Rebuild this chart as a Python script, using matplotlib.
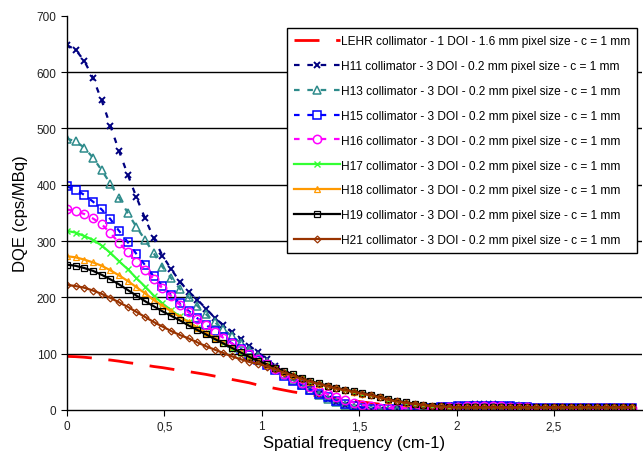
import numpy as np
import matplotlib
matplotlib.use("Agg")
import matplotlib.pyplot as plt

plt.rcParams['font.family'] = ['Liberation Sans', 'DejaVu Sans']

# spatial frequency sampling (cm-1)
df = 0.0446
n_pts = 66
freq = np.arange(n_pts) * df

tail_low = [4.5, 4.5, 4.4, 4.5, 4.6, 4.5, 4.4, 4.5, 4.5, 4.6, 4.5,
            4.4, 4.5, 4.5, 4.6, 4.5, 4.4, 4.5, 4.5, 4.5, 4.5]

lehr = [95, 94.5, 93.5, 92, 90, 88.5, 86.5, 84, 82, 79.5, 77, 75, 72.5, 70, 68,
        65.5, 63, 60, 57, 54, 51, 48, 44, 41, 38, 35, 32, 29.5, 27, 24.5, 22,
        20, 18, 16, 14, 12, 10, 8.5, 7, 6, 5, 4, 3.5, 3, 2.5] + [2] * 21

h11 = [648, 640, 620, 590, 550, 505, 460, 418, 378, 340, 305, 274, 250, 228,
       210, 196, 180, 164, 150, 138, 126, 114, 102, 90, 78, 66, 56, 46, 37,
       28, 20, 14, 8, 4, 1, 0, 0, 0, 1, 2, 3, 4, 5, 6, 7, 8, 9, 10, 10, 10,
       9, 8, 7, 6, 5, 4, 3, 3, 2, 2, 2, 2, 2, 2, 2, 2]

h13 = [482, 477, 466, 448, 426, 402, 377, 350, 325, 302, 278, 254, 234, 215,
       200, 185, 170, 156, 143, 131, 119, 107, 96, 85, 74, 63, 53, 44, 35,
       27, 20, 14, 9, 5, 2, 1, 0, 0, 0, 1, 1, 2, 3, 4, 5, 5, 6, 6, 7, 7,
       7, 6, 6, 5, 4, 4, 3, 3, 3, 2, 2, 2, 2, 2, 2, 2]

h15 = [397, 391, 382, 370, 356, 339, 318, 298, 277, 257, 237, 220, 204, 189,
       176, 163, 151, 140, 129, 118, 108, 98, 88, 79, 70, 61, 52, 44, 36,
       29, 22, 16, 11, 7, 4, 2, 1, 1, 1, 2, 2, 3, 4, 5, 5, 6, 6, 7, 7, 7,
       6, 6, 5, 5, 4, 4, 3, 3, 3, 3, 3, 3, 3, 3, 3, 3]

h16 = [356, 353, 348, 340, 330, 314, 297, 280, 263, 248, 232, 216, 202, 187,
       173, 162, 150, 139, 128, 118, 108, 99, 90, 81, 72, 64, 56, 48, 41,
       34, 28, 22, 17, 13, 9, 6, 4, 3, 3, 3, 3, 4, 4, 5, 5, 5, 6, 6, 6, 6,
       6, 5, 5, 5, 4, 4, 4, 4, 3, 3, 3, 3, 3, 3, 3, 3]

h17 = [318, 315, 309, 302, 292, 279, 264, 250, 234, 219, 203, 189, 177, 166,
       156, 146, 136, 127, 118, 109, 101, 93, 87, 80, 74, 68, 62, 56, 50,
       46, 42, 38, 35, 32, 29, 26, 22, 18, 15, 12.5, 10.5, 8.5, 7, 6,
       5] + tail_low

h18 = [273, 271, 267, 262, 256, 248, 239, 229, 218, 207, 195, 185, 175, 165,
       156, 146, 137, 128, 119, 110, 102, 94, 87, 80, 74, 68, 62, 56, 50,
       46, 42, 38, 35, 32, 29, 26, 22, 18, 15, 12.5, 10.5, 8.5, 7, 6,
       5] + tail_low

h19 = [258, 256, 252, 247, 240, 232, 223, 213, 203, 193, 184, 175, 167, 159,
       150, 142, 134, 126, 118, 110, 102, 94, 87, 81, 75, 69, 63, 57, 51,
       47, 43, 39, 36, 33, 30, 27, 23, 19, 16, 13.5, 11, 9, 7.5, 6.5,
       5.5] + tail_low

h21 = [222, 220, 217, 212, 206, 199, 191, 183, 174, 165, 156, 148, 140, 133,
       127, 120, 113, 107, 101, 95, 90, 85, 82, 77, 72, 66, 61, 55, 50,
       46, 42, 38, 35, 32, 29, 26, 22, 18, 15, 12.5, 10.5, 8.5, 7, 6,
       5] + tail_low

labels = [
    "LEHR collimator - 1 DOI - 1.6 mm pixel size - c = 1 mm",
    "H11 collimator - 3 DOI - 0.2 mm pixel size - c = 1 mm",
    "H13 collimator - 3 DOI - 0.2 mm pixel size - c = 1 mm",
    "H15 collimator - 3 DOI - 0.2 mm pixel size - c = 1 mm",
    "H16 collimator - 3 DOI - 0.2 mm pixel size - c = 1 mm",
    "H17 collimator - 3 DOI - 0.2 mm pixel size - c = 1 mm",
    "H18 collimator - 3 DOI - 0.2 mm pixel size - c = 1 mm",
    "H19 collimator - 3 DOI - 0.2 mm pixel size - c = 1 mm",
    "H21 collimator - 3 DOI - 0.2 mm pixel size - c = 1 mm",
]

xtick_vals = [0, 0.5, 1, 1.5, 2, 2.5]
xtick_labels = ["0", "0,5", "1", "1,5", "2", "2,5"]
ytick_vals = [0, 100, 200, 300, 400, 500, 600, 700]

fig = plt.figure(figsize=(6.43, 4.56), dpi=100)
ax = fig.add_axes([0.104, 0.099, 0.894, 0.864])

dash_short = (0, (2.5, 3.5))

ax.plot(freq, lehr, color='red', lw=2, ls=(0, (9, 6)), label=labels[0])
ax.plot(freq, h11, color='#000080', lw=1.6, ls=dash_short, marker='x',
        ms=5, mew=1.4, label=labels[1])
ax.plot(freq, h13, color='#2E8B8B', lw=1.6, ls=dash_short, marker='^',
        ms=5.5, mfc='none', mew=1.1, label=labels[2])
ax.plot(freq, h15, color='#0000FF', lw=1.6, ls=dash_short, marker='s',
        ms=6, mfc='none', mew=1.1, label=labels[3])
ax.plot(freq, h16, color='#FF00FF', lw=1.6, ls=dash_short, marker='o',
        ms=6, mfc='none', mew=1.1, label=labels[4])
ax.plot(freq, h17, color='#33FF33', lw=1.6, marker='x', ms=4, mew=1,
        label=labels[5])
ax.plot(freq, h18, color='#FF9900', lw=1.6, marker='^', ms=4, mfc='none',
        mew=0.9, label=labels[6])
ax.plot(freq, h19, color='black', lw=1.6, marker='s', ms=4, mfc='none',
        mew=0.9, label=labels[7])
ax.plot(freq, h21, color='#993300', lw=1.6, marker='D', ms=3.5, mfc='none',
        mew=0.9, label=labels[8])

ax.set_xlim(0, 2.95)
ax.set_ylim(0, 700)
ax.set_xticks(xtick_vals)
ax.set_xticklabels(xtick_labels)
ax.set_yticks(ytick_vals)
ax.tick_params(axis='both', labelsize=8.5, direction='out', length=4,
               color='black', labelcolor='#222222')

ax.grid(axis='y', color='black', lw=1)
ax.set_axisbelow(True)
gl = ax.yaxis.get_gridlines()
gl[-1].set_visible(False)
gl[0].set_visible(False)

for s in ['top', 'right']:
    ax.spines[s].set_visible(False)
ax.spines['left'].set_linewidth(1)
ax.spines['bottom'].set_linewidth(1)

ax.set_xlabel("Spatial frequency (cm-1)", fontsize=12, labelpad=2)
ax.set_ylabel("DQE (cps/MBq)", fontsize=12, labelpad=6)

leg = ax.legend(loc='upper right', bbox_to_anchor=(0.992, 0.968),
                fontsize=8.6, frameon=True, fancybox=False, framealpha=1,
                edgecolor='black', handlelength=3.9, handletextpad=0.1,
                labelspacing=1.08, borderpad=0.55, borderaxespad=0)
leg.get_frame().set_linewidth(1)

fig.savefig("out.png", dpi=100)
